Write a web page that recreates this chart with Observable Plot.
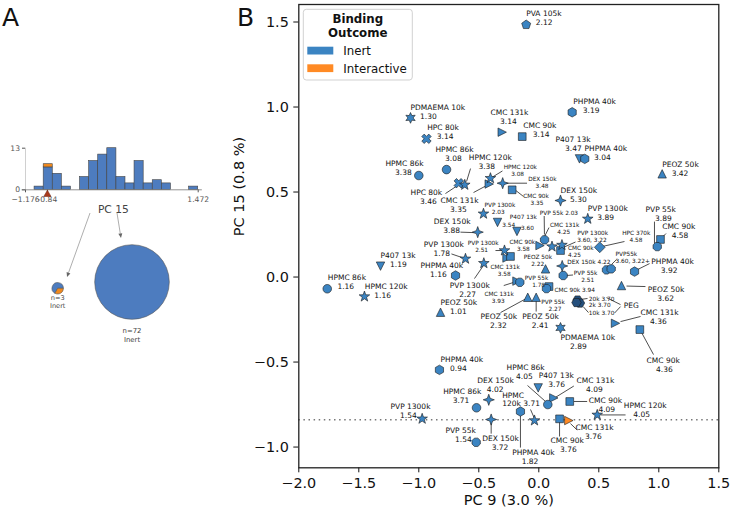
<!DOCTYPE html>
<html><head><meta charset="utf-8">
<script src="https://cdn.jsdelivr.net/npm/d3@7"></script>
<script src="https://cdn.jsdelivr.net/npm/@observablehq/plot@0.6"></script>
<style>
html,body{margin:0;padding:0;background:#fff;}
#wrap{position:relative;width:731px;height:514px;font-family:"DejaVu Sans",sans-serif;}
#wrap svg{position:absolute;left:0;top:0;}
</style></head><body><div id="wrap"></div>
<script>
// ---------------- Panel A data (decision stump on PC 15) ----------------
const histEdges = [-1.176,-1.037,-0.897,-0.758,-0.619,-0.479,-0.340,-0.200,-0.061,0.078,0.218,0.357,0.496,0.636,0.775,0.914,1.054,1.193,1.333,1.472];
const histInert = [0,1,7,5,1,0,4,9,11,13,4,2,9,2,3,2,0,0,1];
const histInteractive = [0,0,1,0,0,0,0,0,0,0,0,0,0,0,0,0,0,0,0];
const histTicks = [-1.176, -0.84, 1.472];
const histTickLabels = ["\u22121.176", "-0.84", "1.472"];
const splitValue = -0.84;
const leafN = [3, 72];
const leafInteractive = [1, 0];
const leafClass = ["Inert", "Inert"];

// ---------------- Panel B data ----------------
const xTicks = [-2.0,-1.5,-1.0,-0.5,0.0,0.5,1.0,1.5];
const yTicks = [-1.0,-0.5,0.0,0.5,1.0,1.5];
const outcomes = ["Inert", "Interactive"];
// [polymer, value, PC9, PC15, outcome]
const points = [
 ["PVA 105k",2.12,-0.105,1.484,"Inert"],
 ["PDMAEMA 10k",1.30,-1.069,0.936,"Inert"],
 ["HPC 80k",3.14,-0.936,0.813,"Inert"],
 ["CMC 131k",3.14,-0.305,0.852,"Inert"],
 ["CMC 90k",3.14,-0.138,0.826,"Inert"],
 ["PHPMA 40k",3.19,0.278,0.969,"Inert"],
 ["P407 13k",3.47,0.339,0.695,"Inert"],
 ["PHPMA 40k",3.04,0.383,0.695,"Inert"],
 ["HPMC 86k",3.38,-1.000,0.597,"Inert"],
 ["HPMC 86k",3.08,-0.769,0.632,"Inert"],
 ["HPMC 120k",3.38,-0.617,0.542,"Inert"],
 ["HPC 80k",3.46,-0.667,0.552,"Inert"],
 ["CMC 131k",3.35,-0.413,0.547,"Inert"],
 ["HPMC 120k",3.08,-0.403,0.581,"Inert"],
 ["DEX 150k",3.48,-0.301,0.552,"Inert"],
 ["CMC 90k",3.35,-0.222,0.513,"Inert"],
 ["DEX 150k",5.30,0.181,0.450,"Inert"],
 ["PVP 1300k",2.03,-0.461,0.372,"Inert"],
 ["DEX 150k",3.88,-0.509,0.264,"Inert"],
 ["P407 13k",3.54,-0.344,0.321,"Inert"],
 ["P407 13k",3.60,-0.182,0.268,"Inert"],
 ["PVP 55k",2.03,0.048,0.219,"Inert"],
 ["CMC 131k",4.25,0.010,0.185,"Inert"],
 ["PVP 1300k",3.60,0.110,0.179,"Inert"],
 ["PVP 1300k",3.22,0.193,0.188,"Inert"],
 ["CMC 90k",4.25,0.181,0.156,"Inert"],
 ["HPC 370k",4.58,0.508,0.175,"Inert"],
 ["PVP 1300k",3.89,0.408,0.342,"Inert"],
 ["PVP 55k",3.89,0.987,0.179,"Inert"],
 ["CMC 90k",4.58,1.014,0.221,"Inert"],
 ["PEOZ 50k",3.42,1.028,0.607,"Inert"],
 ["PVP 1300k",2.51,-0.286,0.156,"Inert"],
 ["CMC 131k",3.58,-0.265,0.112,"Inert"],
 ["CMC 90k",3.58,-0.236,0.121,"Inert"],
 ["PVP 1300k",1.78,-0.611,0.107,"Inert"],
 ["PVP 1300k",2.27,-0.458,0.081,"Inert"],
 ["PHPMA 40k",1.16,-0.694,0.009,"Inert"],
 ["P407 13k",1.19,-1.319,0.064,"Inert"],
 ["HPMC 86k",1.16,-1.763,-0.069,"Inert"],
 ["HPMC 120k",1.16,-1.453,-0.115,"Inert"],
 ["PEOZ 50k",2.22,0.056,0.048,"Inert"],
 ["DEX 150k",4.22,0.195,0.065,"Inert"],
 ["PVP 55k",2.51,0.203,0.009,"Inert"],
 ["PVP 55k",3.60,0.564,0.042,"Inert"],
 ["PVP 55k",3.22,0.603,0.048,"Inert"],
 ["PHPMA 40k",3.92,0.798,0.032,"Inert"],
 ["CMC 131k",3.93,-0.182,-0.024,"Inert"],
 ["PVP 55k",1.78,-0.158,-0.031,"Inert"],
 ["CMC 90k",3.94,0.085,-0.056,"Inert"],
 ["PVP 55k",2.27,0.064,-0.068,"Inert"],
 ["PEOZ 50k",1.01,-0.819,-0.207,"Inert"],
 ["PEOZ 50k",2.32,-0.092,-0.119,"Inert"],
 ["PEOZ 50k",2.41,-0.022,-0.119,"Inert"],
 ["PEOZ 50k",3.62,0.689,-0.050,"Inert"],
 ["PEG 20k",3.70,0.323,-0.135,"Inert"],
 ["PEG 2k",3.70,0.343,-0.153,"Inert"],
 ["PEG 10k",3.70,0.314,-0.150,"Inert"],
 ["CMC 131k",4.36,0.639,-0.272,"Inert"],
 ["PDMAEMA 10k",2.89,0.181,-0.299,"Inert"],
 ["CMC 90k",4.36,0.842,-0.309,"Inert"],
 ["PHPMA 40k",0.94,-0.828,-0.546,"Inert"],
 ["HPMC 86k",4.05,0.075,-0.750,"Inert"],
 ["P407 13k",3.76,-0.005,-0.652,"Inert"],
 ["CMC 131k",4.09,0.125,-0.711,"Inert"],
 ["DEX 150k",4.02,-0.417,-0.722,"Inert"],
 ["HPMC 86k",3.71,-0.519,-0.769,"Inert"],
 ["HPMC 120k",3.71,-0.036,-0.844,"Inert"],
 ["CMC 90k",4.09,0.258,-0.732,"Inert"],
 ["PVP 1300k",1.54,-0.972,-0.834,"Inert"],
 ["DEX 150k",3.72,-0.397,-0.838,"Inert"],
 ["PVP 55k",1.54,-0.522,-0.972,"Inert"],
 ["PHPMA 40k",1.82,-0.153,-0.791,"Inert"],
 ["CMC 90k",3.76,0.173,-0.834,"Inert"],
 ["CMC 131k",3.76,0.250,-0.844,"Interactive"],
 ["HPMC 120k",4.05,0.487,-0.811,"Inert"]
];
// annotation text: [line1, line2, x, y, size, indent]
const labels = [
 ["PVA 105k","2.12",-0.105,1.524,"n"],
 ["PDMAEMA 10k","1.30",-1.069,0.971,"n"],
 ["HPC 80k","3.14",-0.930,0.853,"n"],
 ["CMC 131k","3.14",-0.403,0.941,"n"],
 ["CMC 90k","3.14",-0.130,0.865,"n"],
 ["PHPMA 40k","3.19",0.287,1.009,"n"],
 ["P407 13k","3.47",0.139,0.785,"n"],
 ["PHPMA 40k","3.04",0.381,0.732,"n"],
 ["HPMC 86k","3.38",-1.278,0.644,"n"],
 ["HPMC 86k","3.08",-0.861,0.725,"n"],
 ["HPMC 120k","3.38",-0.583,0.679,"n"],
 ["HPC 80k","3.46",-1.069,0.474,"n"],
 ["CMC 131k","3.35",-0.819,0.426,"n"],
 ["HPMC 120k","3.08",-0.292,0.626,"s"],
 ["DEX 150k","3.48",-0.088,0.558,"s"],
 ["CMC 90k","3.35",-0.130,0.460,"s"],
 ["DEX 150k","5.30",0.181,0.486,"n"],
 ["PVP 1300k","2.03",-0.453,0.406,"s"],
 ["DEX 150k","3.88",-0.875,0.305,"n"],
 ["P407 13k","",-0.242,0.353,"s"],
 ["3.54","",-0.305,0.309,"s"],
 ["3.60","",-0.148,0.288,"s"],
 ["PVP 55k 2.03","",0.008,0.378,"s"],
 ["CMC 131k","4.25",0.093,0.288,"s"],
 ["PVP 1300k","3.60, 3.22",0.320,0.241,"s",0],
 ["CMC 90k","4.25",0.243,0.153,"s",0],
 ["HPC 370k","4.58",0.695,0.238,"s"],
 ["PVP 1300k","3.89",0.408,0.379,"n"],
 ["PVP 55k","3.89",0.889,0.371,"n"],
 ["CMC 90k","4.58",1.028,0.274,"n"],
 ["PEOZ 50k","3.42",1.028,0.639,"n"],
 ["PVP 1300k","2.51",-0.592,0.179,"s"],
 ["CMC 90k","3.58",-0.244,0.185,"s"],
 ["CMC 131k","3.58",-0.403,0.041,"s"],
 ["PVP 1300k","1.78",-0.958,0.168,"n"],
 ["PVP 1300k","2.27",-0.742,-0.074,"n"],
 ["PHPMA 40k","1.16",-0.986,0.046,"n"],
 ["P407 13k","1.19",-1.319,0.103,"n"],
 ["HPMC 86k","1.16",-1.758,-0.029,"n"],
 ["HPMC 120k","1.16",-1.450,-0.079,"n"],
 ["PEOZ 50k","2.22",-0.125,0.099,"s"],
 ["DEX 150k 4.22","",0.237,0.091,"s"],
 ["PVP 55k","2.51",0.292,0.004,"s"],
 ["PVP55k","3.60, 3.22+",0.639,0.119,"s",0],
 ["PHPMA 40k","3.92",0.937,0.068,"n"],
 ["PVP 55k","1.78",-0.117,-0.025,"s"],
 ["CMC 131k","3.93",-0.453,-0.121,"s"],
 ["CMC 90k 3.94","",0.131,-0.075,"s"],
 ["PVP 55k","2.27",0.020,-0.166,"s"],
 ["PEOZ 50k","1.01",-0.819,-0.175,"n"],
 ["PEOZ 50k","2.32",-0.486,-0.259,"n"],
 ["PEOZ 50k","2.41",-0.138,-0.259,"n"],
 ["PEOZ 50k","3.62",0.908,-0.100,"n"],
 ["20k 3.70","",0.417,-0.128,"s"],
 ["2k 3.70","",0.417,-0.164,"s"],
 ["10k 3.70","",0.417,-0.211,"s"],
 ["PEG","",0.708,-0.168,"n"],
 ["CMC 131k","4.36",0.848,-0.232,"n"],
 ["PDMAEMA 10k","2.89",0.181,-0.379,"n"],
 ["CMC 90k","4.36",0.898,-0.518,"n"],
 ["PHPMA 40k","0.94",-0.819,-0.511,"n"],
 ["HPMC 86k","4.05",-0.269,-0.559,"n"],
 ["P407 13k","3.76",0.000,-0.602,"n"],
 ["CMC 131k","4.09",0.314,-0.635,"n"],
 ["DEX 150k","4.02",-0.513,-0.635,"n"],
 ["HPMC 86k","3.71",-0.797,-0.700,"n"],
 ["HPMC","120k 3.71",-0.305,-0.718,"n",0],
 ["CMC 90k","4.09",0.417,-0.751,"n"],
 ["PVP 1300k","1.54",-1.236,-0.786,"n"],
 ["DEX 150k","3.72",-0.472,-0.971,"n"],
 ["PVP 55k","1.54",-0.778,-0.928,"n"],
 ["PHPMA 40k","1.82",-0.222,-1.059,"n"],
 ["CMC 90k","3.76",0.098,-0.986,"n"],
 ["CMC 131k","3.76",0.306,-0.908,"n"],
 ["HPMC 120k","4.05",0.708,-0.782,"n"]
];
// leader lines [x1, y1, x2, y2]
const leaders = [
 [-0.602,0.562,-0.569,0.638],[-0.778,0.491,-0.678,0.538],[-0.544,0.497,-0.436,0.538],
 [-0.386,0.588,-0.303,0.624],[-0.278,0.552,-0.098,0.552],[-0.208,0.518,-0.128,0.474],
 [-0.653,0.264,-0.528,0.261],[0.045,0.359,0.047,0.250],[0.085,0.291,0.023,0.203],
 [0.306,0.206,0.210,0.176],[0.537,0.181,0.714,0.209],[0.964,0.326,0.964,0.197],
 [1.027,0.232,1.060,0.256],[-0.361,0.156,-0.303,0.156],[-0.278,0.153,-0.244,0.126],
 [-0.728,0.136,-0.628,0.112],[-0.536,-0.009,-0.461,0.068],[0.231,0.009,0.285,0.012],
 [0.606,0.074,0.648,0.103],[0.823,0.044,0.923,0.079],[-0.292,-0.050,-0.180,-0.025],
 [-0.319,-0.209,-0.111,-0.129],[-0.022,-0.135,-0.022,-0.203],[0.731,-0.053,0.889,-0.056],
 [0.348,-0.132,0.406,-0.126],[0.370,-0.174,0.414,-0.209],[0.564,-0.121,0.681,-0.162],
 [0.631,-0.212,0.681,-0.174],[0.681,-0.262,0.848,-0.232],[0.856,-0.326,0.956,-0.456],
 [-0.094,-0.638,0.056,-0.732],[0.292,-0.641,0.143,-0.706],[-0.069,-0.779,-0.040,-0.826],
 [0.292,-0.732,0.403,-0.732],[-0.397,-0.856,-0.397,-0.921],[-0.153,-0.815,-0.153,-1.003],
 [0.173,-0.850,0.173,-0.938],[0.264,-0.862,0.320,-0.900],[0.514,-0.811,0.723,-0.811]
];

// ---------------- styles ----------------
const blue = "#3b84c2", orange = "#ff8a24", pegFill = "#244f7c";
const histBlue = "#4d7cbf", histOrange = "#f0891e";
const shapeOf = {"HPMC 86k":"circle","PVP 55k":"octagon","PHPMA 40k":"hexagon","PVA 105k":"pentagon",
 "HPMC 120k":"star5","PVP 1300k":"star5","PDMAEMA 10k":"star6","HPC 80k":"xfill","HPC 370k":"diamond",
 "DEX 150k":"star4","CMC 90k":"square","CMC 131k":"triRight","P407 13k":"triDown","PEOZ 50k":"triUp",
 "PEG 2k":"hexFlat","PEG 10k":"hexFlat","PEG 20k":"hexFlat"};
const Rr = s => Math.sqrt(s / Math.PI);
function polygon(n, rot, k) { return {draw(c, s) { const r = Rr(s) * k;
  for (let i = 0; i < n; ++i) { const a = rot + 2 * Math.PI * i / n; const x = r * Math.sin(a), y = -r * Math.cos(a); i ? c.lineTo(x, y) : c.moveTo(x, y); }
  c.closePath(); }}; }
function starShape(n, ko, ki) { return {draw(c, s) { const r = Rr(s);
  for (let i = 0; i < 2 * n; ++i) { const a = Math.PI * i / n; const rr = (i % 2 ? ki : ko) * r; const x = rr * Math.sin(a), y = -rr * Math.cos(a); i ? c.lineTo(x, y) : c.moveTo(x, y); }
  c.closePath(); }}; }
function tri(rot) { return {draw(c, s) { const r = Rr(s) * 0.98; const cs = Math.cos(rot), sn = Math.sin(rot);
  [[0,-1],[1,1],[-1,1]].forEach(([x, y], i) => { const X = (x * cs - y * sn) * r, Y = (x * sn + y * cs) * r; i ? c.lineTo(X, Y) : c.moveTo(X, Y); });
  c.closePath(); }}; }
const xfill = {draw(c, s) { const r = Rr(s); const a = 1.15 * r, w = 0.4 * r;
  const p = [[w,-a],[w,-w],[a,-w],[a,w],[w,w],[w,a],[-w,a],[-w,w],[-a,w],[-a,-w],[-w,-w],[-w,-a]];
  const q = Math.SQRT1_2; p.forEach(([x, y], i) => { const X = (x - y) * q, Y = (x + y) * q; i ? c.lineTo(X, Y) : c.moveTo(X, Y); }); c.closePath(); }};
const circle = {draw(c, s) { const r = Rr(s); c.moveTo(r, 0); c.arc(0, 0, r, 0, 2 * Math.PI); c.closePath(); }};
const symbolDefs = {
  triRight: tri(Math.PI / 2), triDown: tri(Math.PI), triUp: tri(0), square: polygon(4, Math.PI / 4, 1.27),
  diamond: polygon(4, 0, 1.25), star4: starShape(4, 1.3, 0.48), xfill, star5: starShape(5, 1.3, 0.52),
  star6: starShape(6, 1.25, 0.62), pentagon: polygon(5, 0, 1.1), hexagon: polygon(6, 0, 1.1),
  octagon: polygon(8, Math.PI / 8, 1.05), circle, hexFlat: polygon(6, Math.PI / 6, 1.1)
};
const shapeOrder = ["triRight","triDown","triUp","square","diamond","star4","xfill","star5","star6","pentagon","hexagon","octagon","circle","hexFlat"];

const pts = points.map(([polymer, value, x, y, outcome]) => ({polymer, value, x, y, outcome}));
const NB4 = "\u00a0\u00a0\u00a0\u00a0";
const lab = labels.map(([l1, l2, x, y, sz, ind]) => ({text: l2 ? l1 + "\n" + (ind === 0 ? "" : NB4) + l2 : l1, x, y, sz}));
const fillOf = d => d.polymer.startsWith("PEG") ? pegFill : (d.outcome === "Interactive" ? orange : blue);

const plotB = Plot.plot({
  width: 731, height: 514,
  marginLeft: 298.3, marginRight: 12.7, marginTop: 4, marginBottom: 46.7,
  x: {domain: [-2, 1.5], ticks: xTicks, tickFormat: d3.format(".1f"), tickSize: 5, tickPadding: 4.5, label: null},
  y: {domain: [-1.122, 1.603], ticks: yTicks, tickFormat: d3.format(".1f"), tickSize: 5, tickPadding: 5, label: null},
  color: {type: "identity"},
  style: {fontFamily: "DejaVu Sans", fontSize: "14.4px", color: "#111", background: "white", overflow: "visible"},
  marks: [
    Plot.ruleY([splitValue], {stroke: "#777", strokeWidth: 1.5, strokeDasharray: "1.5,3.6"}),
    Plot.link(leaders, {x1: d => d[0], y1: d => d[1], x2: d => d[2], y2: d => d[3], stroke: "#222", strokeWidth: 0.8}),
    ...shapeOrder.map(k => Plot.dot(pts.filter(d => shapeOf[d.polymer] === k),
      {x: "x", y: "y", r: 4.3, symbol: symbolDefs[k], fill: fillOf, stroke: "#1a1a1a", strokeWidth: 0.6})),
    Plot.text(lab.filter(d => d.sz === "n"), {x: "x", y: "y", text: "text", textAnchor: "start", lineAnchor: "middle", lineHeight: 1.2, fontSize: 7.5, fill: "#111"}),
    Plot.text(lab.filter(d => d.sz === "s"), {x: "x", y: "y", text: "text", textAnchor: "start", lineAnchor: "middle", lineHeight: 1.2, fontSize: 5.8, fill: "#111"}),
    Plot.frame({stroke: "#222", strokeWidth: 1.3}),
    Plot.text(["PC 9 (3.0 %)"], {frameAnchor: "bottom", dy: 37.5, fontSize: 14.5, fill: "#111"}),
    Plot.text(["PC 15 (0.8 %)"], {frameAnchor: "left", dx: -59.5, rotate: -90, fontSize: 14.5, fill: "#111"})
  ]
});
document.getElementById("wrap").appendChild(plotB);

// legend + panel letter
const sB = d3.select(plotB);
sB.append("text").attr("x", 237).attr("y", 26).attr("text-anchor", "start").attr("font-size", 25).attr("font-family", "DejaVu Sans").attr("fill", "#111").text("B");
const lg = sB.append("g").attr("font-family", "DejaVu Sans").attr("font-size", 11.8).attr("fill", "#111").attr("text-anchor", "start");
lg.append("rect").attr("x", 303.3).attr("y", 9.3).attr("width", 109).attr("height", 70.7).attr("rx", 3)
  .attr("fill", "white").attr("fill-opacity", 0.85).attr("stroke", "#cccccc").attr("stroke-width", 0.9);
lg.append("text").attr("x", 357.8).attr("y", 23).attr("text-anchor", "middle").attr("font-weight", "bold").text("Binding");
lg.append("text").attr("x", 357.8).attr("y", 37).attr("text-anchor", "middle").attr("font-weight", "bold").text("Outcome");
[blue, orange].forEach((col, i) => {
  lg.append("rect").attr("x", 307.3).attr("y", 46.7 + i * 17.6).attr("width", 26).attr("height", 7.8).attr("fill", col);
  lg.append("text").attr("x", 343.3).attr("y", 55 + i * 17.6).attr("text-anchor", "start").text(outcomes[i]);
});

// ---------------- Panel A ----------------
const bins = [];
histInert.forEach((c, i) => {
  bins.push({x1: histEdges[i], x2: histEdges[i + 1], y1: 0, y2: c, fill: histBlue});
  if (histInteractive[i]) bins.push({x1: histEdges[i], x2: histEdges[i + 1], y1: c, y2: c + histInteractive[i], fill: histOrange});
});
const binsShown = bins.filter(b => b.y2 > b.y1);
const hx0 = histEdges[0], hx1 = histEdges[histEdges.length - 1], span = hx1 - hx0;
const tickLab = new Map(histTicks.map((t, i) => [t, histTickLabels[i]]));
const plotA = Plot.plot({
  width: 240, height: 514,
  marginLeft: 25, marginRight: 42.3, marginTop: 147.7, marginBottom: 324.7,
  x: {domain: [hx0, hx1], ticks: histTicks, tickFormat: d => tickLab.get(d), tickSize: 3, tickPadding: 4, label: null},
  y: {domain: [0, 13], ticks: [0, 13], tickSize: 3, tickPadding: 2.5, label: null},
  color: {type: "identity"},
  style: {fontFamily: "DejaVu Sans", fontSize: "7.6px", color: "#555", background: "transparent", overflow: "visible"},
  marks: [
    Plot.ruleX([hx0], {y1: 0, y2: 13, stroke: "#d0d0d0", strokeWidth: 1}),
    Plot.rect(binsShown, {x1: "x1", x2: "x2", y1: "y1", y2: "y2", fill: "fill", stroke: "#444", strokeWidth: 0.6}),
    Plot.ruleY([0], {x1: hx0 - 0.02 * span, x2: hx1 + 0.024 * span, stroke: "#777", strokeWidth: 0.8}),
    Plot.dot([splitValue], {x: d => d, y: 0, dy: 4.6, symbol: "triangle", r: 2.7, fill: "#a8391c", stroke: "#6b2210", strokeWidth: 0.5}),
    Plot.text(["PC 15"], {frameAnchor: "bottom", dy: 22.7, dx: 1.5, fontSize: 10.7, fill: "#444"})
  ]
});
document.getElementById("wrap").appendChild(plotA);
const sA = d3.select(plotA);
sA.append("text").attr("x", 2).attr("y", 26).attr("text-anchor", "start").attr("font-size", 25).attr("font-family", "DejaVu Sans").attr("fill", "#111").text("A");
// arrows from the split to the leaves
const arrows = [[90, 213, 67, 277], [117, 213, 121, 238]];
arrows.forEach(([x1, y1, x2, y2]) => {
  const ang = Math.atan2(y2 - y1, x2 - x1), L = 4.5, W = 2;
  const bx = x2 - L * Math.cos(ang), by = y2 - L * Math.sin(ang);
  sA.append("line").attr("x1", x1).attr("y1", y1).attr("x2", bx).attr("y2", by).attr("stroke", "#999").attr("stroke-width", 0.8);
  sA.append("path").attr("d", `M${x2},${y2}L${bx - W * Math.sin(ang)},${by + W * Math.cos(ang)}L${bx + W * Math.sin(ang)},${by - W * Math.cos(ang)}Z`).attr("fill", "#666");
});
// leaf pies
const leafGeom = [{cx: 57.7, cy: 288.3, r: 5.7, fs: 6.6, ty: [297.7, 306]}, {cx: 132, cy: 282, r: 37.3, fs: 6.9, ty: [331, 340]}];
leafN.forEach((n, i) => {
  const g = leafGeom[i];
  const frac = leafInteractive[i] / n;
  const arc = d3.arc().innerRadius(0).outerRadius(g.r);
  const gg = sA.append("g").attr("transform", `translate(${g.cx},${g.cy})`);
  const a0 = Math.PI / 2, a1 = a0 + frac * 2 * Math.PI;
  gg.append("path").attr("d", arc({startAngle: a1, endAngle: a0 + 2 * Math.PI})).attr("fill", histBlue).attr("stroke", "#555").attr("stroke-width", 0.6);
  if (frac > 0) gg.append("path").attr("d", arc({startAngle: a0, endAngle: a1})).attr("fill", histOrange).attr("stroke", "#555").attr("stroke-width", 0.6);
  sA.append("text").attr("x", g.cx).attr("y", g.ty[0] + 2.4).attr("text-anchor", "middle").attr("font-size", g.fs).attr("fill", "#444").text(`n=${n}`);
  sA.append("text").attr("x", g.cx).attr("y", g.ty[1] + 2.4).attr("text-anchor", "middle").attr("font-size", g.fs).attr("fill", "#444").text(leafClass[i]);
});
</script></body></html>
